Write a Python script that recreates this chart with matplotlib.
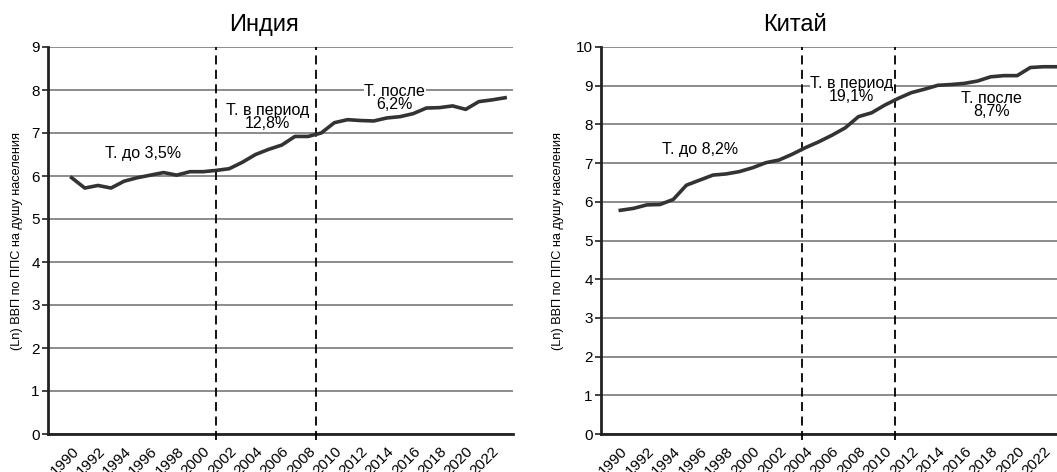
import matplotlib.pyplot as plt

plt.rcParams['font.family'] = ['Liberation Sans', 'DejaVu Sans']

years = list(range(1990, 2024))

# (Ln) GDP PPP per capita
india = [5.96, 5.72, 5.78, 5.72, 5.88, 5.96, 6.02, 6.08, 6.02, 6.10,
         6.10, 6.13, 6.17, 6.32, 6.50, 6.62, 6.72, 6.92, 6.92, 7.00,
         7.24, 7.31, 7.29, 7.28, 7.35, 7.38, 7.45, 7.58, 7.59, 7.63,
         7.55, 7.73, 7.77, 7.82]
china = [5.78, 5.83, 5.92, 5.93, 6.06, 6.43, 6.56, 6.69, 6.72, 6.78,
         6.88, 7.01, 7.08, 7.23, 7.40, 7.55, 7.72, 7.91, 8.20, 8.30,
         8.50, 8.67, 8.82, 8.91, 9.01, 9.03, 9.06, 9.12, 9.23, 9.26,
         9.26, 9.47, 9.49, 9.49]

india_breaks = [2001.0, 2008.6]
china_breaks = [2003.7, 2010.8]

india_notes = [("Т. до 3,5%", 1995.4, 6.52),
               ("Т. в период\n12,8%", 2004.9, 7.38),
               ("Т. после\n6,2%", 2014.6, 7.82)]
china_notes = [("Т. до 8,2%", 1996.0, 7.36),
               ("Т. в период\n19,1%", 2007.5, 8.89),
               ("Т. после\n8,7%", 2018.05, 8.5)]

tick_years = list(range(1990, 2023, 2))
ylabel = "(Ln) ВВП по ППС на душу населения"

W, H = 1057, 472
fig = plt.figure(figsize=(W / 100, H / 100), dpi=100)


def panel(rect, vals, breaks, notes, xlim, ymax, title, title_x):
    ax = fig.add_axes(rect)
    ax.plot(years, vals, color='#333333', lw=2.6, solid_joinstyle='round', zorder=4)
    for b in breaks:
        ax.plot([b, b], [-0.15, ymax], color='black', lw=1.3, ls=(0, (5, 3)),
                zorder=3, clip_on=False)
    for txt, x, y in notes:
        ax.text(x, y, txt, ha='center', va='center', fontsize=11.5, linespacing=0.85,
                bbox=dict(facecolor='white', edgecolor='none', pad=0.3), zorder=2.5)
    ax.set_xlim(*xlim)
    ax.set_ylim(0, ymax)
    ax.set_yticks(range(0, ymax + 1))
    ax.yaxis.grid(True, color='#8c8c8c', lw=1.4)
    ax.set_axisbelow(True)
    ax.set_xticks(tick_years)
    ax.set_xticklabels([str(t) for t in tick_years], rotation=45, ha='right',
                       rotation_mode='anchor', fontsize=11)
    ax.tick_params(axis='x', length=0, pad=7)
    ax.tick_params(axis='y', length=4, width=1.2, labelsize=11, pad=2, color='#222222')
    for s in ['top', 'right']:
        ax.spines[s].set_visible(False)
    for s in ['left', 'bottom']:
        ax.spines[s].set_linewidth(2)
        ax.spines[s].set_color('#222222')
    ax.set_ylabel(ylabel, fontsize=9.2)
    fig.text(title_x / W, 1 - 25 / H, title, ha='center', va='center', fontsize=17)
    return ax


ax1 = panel([48 / W, 1 - 434 / H, 465 / W, 387 / H], india, india_breaks, india_notes,
            (1988.2, 2023.6), 9, "Индия", 264)
ax1.yaxis.set_label_coords(-25 / 465, 0.5)

ax2 = panel([601 / W, 1 - 434 / H, 477 / W, 387 / H], china, china_breaks, china_notes,
            (1988.54, 2024.6), 10, "Китай", 795)
ax2.yaxis.set_label_coords(-37 / 477, 0.5)

fig.savefig("out.png", dpi=100, facecolor='white')
